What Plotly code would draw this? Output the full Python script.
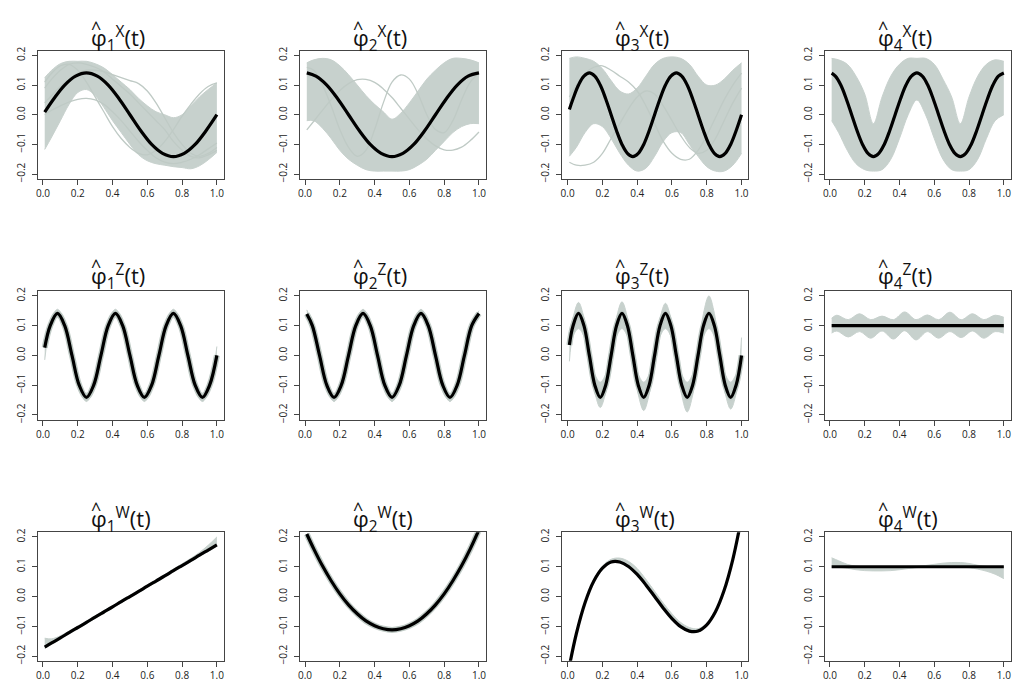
import plotly.graph_objects as go

# ---------------- grids (t values) ----------------
G21 = [0.01, 0.05, 0.1, 0.15, 0.2, 0.25, 0.3, 0.35, 0.4, 0.45, 0.5,
       0.55, 0.6, 0.65, 0.7, 0.75, 0.8, 0.85, 0.9, 0.95, 1.0]
T16 = [0.01, 0.0625, 0.125, 0.1875, 0.25, 0.3125, 0.375, 0.4375, 0.5,
       0.5625, 0.625, 0.6875, 0.75, 0.8125, 0.875, 0.9375, 1.0]
T32 = [0.01, 0.03125, 0.0625, 0.09375, 0.125, 0.15625, 0.1875, 0.21875, 0.25,
       0.28125, 0.3125, 0.34375, 0.375, 0.40625, 0.4375, 0.46875, 0.5,
       0.53125, 0.5625, 0.59375, 0.625, 0.65625, 0.6875, 0.71875, 0.75,
       0.78125, 0.8125, 0.84375, 0.875, 0.90625, 0.9375, 0.96875, 1.0]
T24 = [0.01, 0.0417, 0.0833, 0.125, 0.1667, 0.2083, 0.25, 0.2917, 0.3333,
       0.375, 0.4167, 0.4583, 0.5, 0.5417, 0.5833, 0.625, 0.6667, 0.7083,
       0.75, 0.7917, 0.8333, 0.875, 0.9167, 0.9583, 1.0]
TZ4 = [0.01, 0.04, 0.105, 0.17, 0.235, 0.30, 0.365, 0.43, 0.495, 0.56,
       0.625, 0.69, 0.755, 0.82, 0.885, 0.95, 1.0]
T2 = [0.01, 1.0]

# ---------------- true (black) curves ----------------
X1 = [0.009, 0.054, 0.100, 0.130, 0.141, 0.130, 0.100, 0.054, 0.000, -0.054, -0.100,
      -0.130, -0.141, -0.130, -0.100, -0.054, 0.000]
X2 = [0.141, 0.130, 0.100, 0.054, 0.000, -0.054, -0.100, -0.130, -0.141, -0.130, -0.100,
      -0.054, 0.000, 0.054, 0.100, 0.130, 0.141]
X3 = [0.018, 0.054, 0.100, 0.130, 0.141, 0.130, 0.100, 0.054, 0.000, -0.054, -0.100,
      -0.130, -0.141, -0.130, -0.100, -0.054, 0.000, 0.054, 0.100, 0.130, 0.141, 0.130,
      0.100, 0.054, 0.000, -0.054, -0.100, -0.130, -0.141, -0.130, -0.100, -0.054, 0.000]
X4 = [0.140, 0.130, 0.100, 0.054, 0.000, -0.054, -0.100, -0.130, -0.141, -0.130, -0.100,
      -0.054, 0.000, 0.054, 0.100, 0.130, 0.141, 0.130, 0.100, 0.054, 0.000, -0.054,
      -0.100, -0.130, -0.141, -0.130, -0.100, -0.054, 0.000, 0.054, 0.100, 0.130, 0.141]
Z1 = [0.026, 0.100, 0.141, 0.100, 0.000, -0.100, -0.141, -0.100, 0.000, 0.100, 0.141,
      0.100, 0.000, -0.100, -0.141, -0.100, 0.000, 0.100, 0.141, 0.100, 0.000, -0.100,
      -0.141, -0.100, 0.000]
Z2 = [0.139, 0.100, 0.000, -0.100, -0.141, -0.100, 0.000, 0.100, 0.141, 0.100, 0.000,
      -0.100, -0.141, -0.100, 0.000, 0.100, 0.141, 0.100, 0.000, -0.100, -0.141, -0.100,
      0.000, 0.100, 0.141]
Z3 = [0.035, 0.100, 0.141, 0.100, 0.000, -0.100, -0.141, -0.100, 0.000, 0.100, 0.141,
      0.100, 0.000, -0.100, -0.141, -0.100, 0.000, 0.100, 0.141, 0.100, 0.000, -0.100,
      -0.141, -0.100, 0.000, 0.100, 0.141, 0.100, 0.000, -0.100, -0.141, -0.100, 0.000]
Z4 = [0.100, 0.100]
W1 = [-0.170, -0.156, -0.139, -0.121, -0.104, -0.087, -0.069, -0.052, -0.035, -0.017, 0.000,
      0.017, 0.035, 0.052, 0.069, 0.087, 0.104, 0.121, 0.139, 0.156, 0.173]
W2 = [0.210, 0.160, 0.103, 0.053, 0.009, -0.028, -0.058, -0.082, -0.098, -0.108, -0.112,
      -0.108, -0.098, -0.082, -0.058, -0.028, 0.009, 0.053, 0.103, 0.160, 0.224]
W3 = [-0.234, -0.125, -0.021, 0.051, 0.095, 0.116, 0.116, 0.101, 0.074, 0.039, 0.000,
      -0.039, -0.074, -0.101, -0.116, -0.116, -0.095, -0.051, 0.021, 0.125, 0.265]
W4 = [0.100, 0.100]

# ---------------- estimated curves: bands (low / high envelopes) ----------------
X1_lo = [-0.117, -0.075, -0.020, 0.035, 0.075, 0.085, 0.065, 0.025, -0.020, -0.060, -0.100,
         -0.135, -0.155, -0.165, -0.170, -0.175, -0.178, -0.182, -0.172, -0.152, -0.127]
X1_hi = [0.125, 0.150, 0.172, 0.180, 0.180, 0.180, 0.172, 0.158, 0.135, 0.110, 0.085,
         0.055, 0.030, 0.010, 0.000, -0.010, 0.000, 0.030, 0.060, 0.085, 0.107]
X2_lo = [-0.020, -0.020, -0.045, -0.080, -0.120, -0.150, -0.170, -0.185, -0.190, -0.190, -0.190,
         -0.190, -0.185, -0.170, -0.150, -0.120, -0.090, -0.060, -0.040, -0.030, -0.030]
X2_hi = [0.175, 0.185, 0.190, 0.185, 0.165, 0.135, 0.100, 0.065, 0.035, 0.010, -0.015,
         0.005, 0.040, 0.080, 0.120, 0.150, 0.175, 0.190, 0.190, 0.185, 0.175]
X3_lo = [-0.140, -0.110, -0.060, -0.030, -0.040, -0.080, -0.130, -0.170, -0.190, -0.180, -0.140,
         -0.090, -0.060, -0.060, -0.100, -0.140, -0.175, -0.190, -0.190, -0.170, -0.130]
X3_hi = [0.190, 0.195, 0.190, 0.180, 0.155, 0.115, 0.080, 0.070, 0.090, 0.130, 0.170,
         0.190, 0.195, 0.190, 0.170, 0.130, 0.100, 0.100, 0.120, 0.150, 0.175]
X4_lo = [-0.020, -0.060, -0.120, -0.165, -0.185, -0.190, -0.185, -0.150, -0.080, 0.000, 0.050,
         0.000, -0.080, -0.150, -0.185, -0.190, -0.185, -0.150, -0.080, -0.020, 0.000]
X4_hi = [0.190, 0.185, 0.170, 0.130, 0.070, -0.030, 0.060, 0.130, 0.170, 0.190, 0.190,
         0.190, 0.170, 0.120, 0.060, -0.030, 0.060, 0.130, 0.170, 0.185, 0.180]

Z1_in = [-0.015, 0.090, 0.127, 0.090, 0.000, -0.090, -0.127, -0.090, 0.000, 0.090, 0.127,
         0.090, 0.000, -0.090, -0.127, -0.090, 0.000, 0.090, 0.127, 0.090, 0.000, -0.090,
         -0.127, -0.090, -0.020]
Z1_out = [0.030, 0.110, 0.155, 0.110, 0.000, -0.110, -0.155, -0.110, 0.000, 0.110, 0.155,
          0.110, 0.000, -0.110, -0.155, -0.110, 0.000, 0.110, 0.155, 0.110, 0.000, -0.110,
          -0.155, -0.110, 0.030]
Z2_in = [0.125, 0.090, 0.000, -0.090, -0.127, -0.090, 0.000, 0.090, 0.127, 0.090, 0.000,
         -0.090, -0.127, -0.090, 0.000, 0.090, 0.127, 0.090, 0.000, -0.090, -0.127, -0.090,
         0.000, 0.090, 0.125]
Z2_out = [0.153, 0.110, 0.000, -0.110, -0.155, -0.110, 0.000, 0.110, 0.155, 0.110, 0.000,
          -0.110, -0.155, -0.110, 0.000, 0.110, 0.155, 0.110, 0.000, -0.110, -0.155, -0.110,
          0.000, 0.110, 0.150]
Z3_in = [-0.020, 0.064, 0.090, 0.064, 0.000, -0.064, -0.090, -0.064, 0.000, 0.064, 0.090,
         0.064, 0.000, -0.064, -0.090, -0.064, 0.000, 0.064, 0.090, 0.064, 0.000, -0.064,
         -0.090, -0.064, 0.000, 0.064, 0.090, 0.064, 0.000, -0.064, -0.090, -0.064, -0.030]
Z3_out = [0.050, 0.126, 0.178, 0.126, 0.000, -0.124, -0.175, -0.124, 0.000, 0.127, 0.180,
          0.127, 0.000, -0.131, -0.185, -0.131, 0.000, 0.124, 0.175, 0.124, 0.000, -0.134,
          -0.190, -0.134, 0.000, 0.141, 0.200, 0.141, 0.000, -0.127, -0.180, -0.127, 0.060]
Z4_lo = [0.075, 0.082, 0.062, 0.080, 0.058, 0.082, 0.055, 0.083, 0.052, 0.080, 0.058,
         0.080, 0.060, 0.082, 0.058, 0.080, 0.075]
Z4_hi = [0.125, 0.135, 0.120, 0.140, 0.120, 0.132, 0.120, 0.146, 0.120, 0.136, 0.120,
         0.145, 0.120, 0.140, 0.120, 0.135, 0.128]

W1_lo = [-0.174, -0.160, -0.143, -0.125, -0.108, -0.091, -0.073, -0.056, -0.039, -0.021, -0.004,
         0.013, 0.031, 0.048, 0.065, 0.083, 0.100, 0.117, 0.135, 0.152, 0.169]
W1_hi = [-0.140, -0.142, -0.132, -0.116, -0.100, -0.083, -0.065, -0.048, -0.031, -0.013, 0.004,
         0.021, 0.039, 0.056, 0.074, 0.092, 0.110, 0.128, 0.148, 0.172, 0.200]
W3_lo = [-0.237, -0.128, -0.024, 0.048, 0.092, 0.113, 0.113, 0.098, 0.071, 0.036, -0.003,
         -0.042, -0.077, -0.104, -0.119, -0.119, -0.098, -0.054, 0.018, 0.122, 0.262]
W3_hi = [-0.232, -0.122, -0.017, 0.056, 0.102, 0.125, 0.129, 0.118, 0.094, 0.058, 0.018,
         -0.022, -0.058, -0.087, -0.104, -0.108, -0.090, -0.048, 0.024, 0.128, 0.268]
W4_lo = [0.098, 0.098, 0.095, 0.090, 0.087, 0.086, 0.086, 0.087, 0.090, 0.094, 0.097,
         0.098, 0.098, 0.098, 0.098, 0.098, 0.097, 0.092, 0.085, 0.075, 0.060]
W4_hi = [0.130, 0.120, 0.108, 0.102, 0.100, 0.100, 0.100, 0.100, 0.100, 0.101, 0.102,
         0.104, 0.108, 0.112, 0.114, 0.114, 0.111, 0.105, 0.101, 0.100, 0.100]

# ---------------- estimated curves: individual outliers ----------------
X1_a = [0.040, 0.065, 0.095, 0.120, 0.140, 0.150, 0.150, 0.145, 0.135, 0.125, 0.115,
        0.105, 0.080, 0.040, -0.010, -0.060, -0.100, -0.130, -0.140, -0.130, -0.110]
X1_b = [0.110, 0.140, 0.165, 0.170, 0.150, 0.110, 0.060, 0.010, -0.040, -0.080, -0.110,
        -0.130, -0.135, -0.120, -0.090, -0.050, -0.005, 0.035, 0.070, 0.095, 0.107]
X1_c = [0.000, 0.015, 0.030, 0.043, 0.052, 0.055, 0.050, 0.035, 0.010, -0.020, -0.055,
        -0.090, -0.120, -0.145, -0.160, -0.165, -0.160, -0.150, -0.135, -0.115, -0.095]
X1_d = [0.090, 0.120, 0.150, 0.170, 0.175, 0.170, 0.160, 0.145, 0.120, 0.095, 0.070,
        0.040, 0.010, -0.020, -0.050, -0.090, -0.120, -0.140, -0.145, -0.135, -0.120]
X2_a = [-0.051, -0.022, 0.015, 0.051, 0.082, 0.105, 0.118, 0.119, 0.109, 0.087, 0.058,
        0.022, -0.015, -0.051, -0.082, -0.105, -0.118, -0.119, -0.109, -0.087, -0.058]
X2_b = [0.160, 0.150, 0.100, 0.030, -0.050, -0.110, -0.140, -0.120, -0.050, 0.040, 0.110,
        0.134, 0.120, 0.070, 0.000, -0.050, -0.060, -0.020, 0.050, 0.110, 0.140]
X3_a = [-0.160, -0.170, -0.170, -0.160, -0.130, -0.080, -0.030, 0.020, 0.060, 0.080, 0.070,
        0.030, -0.020, -0.070, -0.110, -0.130, -0.120, -0.080, -0.020, 0.040, 0.090]
X3_b = [0.060, 0.100, 0.140, 0.160, 0.165, 0.150, 0.130, 0.110, 0.080, 0.030, -0.030,
        -0.090, -0.130, -0.150, -0.150, -0.120, -0.070, -0.010, 0.050, 0.100, 0.140]

TITLE_LETTERS = ["X", "Z", "W"]
X_TICKS = [0.0, 0.2, 0.4, 0.6, 0.8, 1.0]
X_LABELS = ["0.0", "0.2", "0.4", "0.6", "0.8", "1.0"]
Y_TICKS = [-0.2, -0.1, 0.0, 0.1, 0.2]
Y_LABELS = ["\u22120.2", "\u22120.1", "0.0", "0.1", "0.2"]

# panel n -> (bands, outliers, thick gray underlay, black)
PANELS = {
    1: ([(G21, X1_lo, X1_hi)], [X1_a, X1_b, X1_c, X1_d], None, (T16, X1)),
    2: ([(G21, X2_lo, X2_hi)], [X2_a, X2_b], None, (T16, X2)),
    3: ([(G21, X3_lo, X3_hi)], [X3_a, X3_b], None, (T32, X3)),
    4: ([(G21, X4_lo, X4_hi)], [], None, (T32, X4)),
    5: ([(T24, Z1_in, Z1_out)], [], (T24, Z1), (T24, Z1)),
    6: ([(T24, Z2_in, Z2_out)], [], (T24, Z2), (T24, Z2)),
    7: ([(T32, Z3_in, Z3_out)], [], (T32, Z3), (T32, Z3)),
    8: ([(TZ4, Z4_lo, Z4_hi)], [], None, (T2, Z4)),
    9: ([(G21, W1_lo, W1_hi)], [], None, (G21, W1)),
    10: ([], [], (G21, W2), (G21, W2)),
    11: ([(G21, W3_lo, W3_hi)], [], None, (G21, W3)),
    12: ([(G21, W4_lo, W4_hi)], [], None, (T2, W4)),
}

# ---------------- layout constants ----------------
WIDTH, HEIGHT = 1012, 687
COL_LEFT = [35.9, 298.5, 561.6, 824.4]
BOX_W = 186.3
ROWS = [(47.2, 176.9), (290.5, 420.6), (534.4, 664.6)]
TITLE_Y = [35, 276, 522]
GRAY = "#BFCAC5"
BAND = "#C7D1CD"
FONT = "Open Sans"

fig = go.Figure()


def names(n):
    return ("x" if n == 1 else f"x{n}", "y" if n == 1 else f"y{n}")


for n, (bands, outs, under, black) in PANELS.items():
    xa, ya = names(n)
    for (t, lo, hi) in bands:
        fig.add_trace(go.Scatter(x=t, y=lo, mode="lines", xaxis=xa, yaxis=ya,
                                 line=dict(color=BAND, width=1, shape="spline"),
                                 showlegend=False, hoverinfo="skip"))
        fig.add_trace(go.Scatter(x=t, y=hi, mode="lines", xaxis=xa, yaxis=ya,
                                 fill="tonexty", fillcolor=BAND,
                                 line=dict(color=BAND, width=1, shape="spline"),
                                 showlegend=False, hoverinfo="skip"))
    for o in outs:
        fig.add_trace(go.Scatter(x=G21, y=o, mode="lines", xaxis=xa, yaxis=ya,
                                 line=dict(color=GRAY, width=1.3, shape="spline"),
                                 showlegend=False, hoverinfo="skip"))
    if under is not None:
        fig.add_trace(go.Scatter(x=under[0], y=under[1], mode="lines", xaxis=xa, yaxis=ya,
                                 line=dict(color=GRAY, width=6, shape="spline"),
                                 showlegend=False, hoverinfo="skip"))
    fig.add_trace(go.Scatter(x=black[0], y=black[1], mode="lines", xaxis=xa, yaxis=ya,
                             line=dict(color="black", width=3.2, shape="spline"),
                             showlegend=False, hoverinfo="skip"))

layout = dict(width=WIDTH, height=HEIGHT, margin=dict(l=0, r=0, t=0, b=0),
              paper_bgcolor="white", plot_bgcolor="white", showlegend=False)
annotations = []
for r in range(3):
    top, bot = ROWS[r]
    for c in range(4):
        n = r * 4 + c + 1
        left = COL_LEFT[c]
        xk = "xaxis" if n == 1 else f"xaxis{n}"
        yk = "yaxis" if n == 1 else f"yaxis{n}"
        common = dict(showline=True, linecolor="#444", linewidth=1, mirror=True,
                      ticks="outside", ticklen=5, tickwidth=1, tickcolor="#444",
                      showgrid=False, zeroline=False,
                      tickfont=dict(family=FONT, size=10, color="#222"))
        layout[xk] = dict(domain=[left / WIDTH, (left + BOX_W) / WIDTH],
                          range=[-0.0296, 1.0396], tickvals=X_TICKS, ticktext=X_LABELS,
                          anchor=names(n)[1], **common)
        layout[yk] = dict(domain=[1 - bot / HEIGHT, 1 - top / HEIGHT],
                          range=[-0.216, 0.216], tickvals=Y_TICKS, ticktext=Y_LABELS,
                          tickangle=-90, ticklabelstandoff=3,
                          anchor=names(n)[0], **common)
        tx = left + 51
        annotations.append(dict(
            xref="paper", yref="paper", x=tx / WIDTH, y=1 - TITLE_Y[r] / HEIGHT,
            xanchor="left", yanchor="middle", showarrow=False,
            text=f"φ<sub>{c + 1}</sub><sup>{TITLE_LETTERS[r]}</sup>(t)",
            font=dict(family=FONT, size=22, color="#111")))
        annotations.append(dict(
            xref="paper", yref="paper", x=(tx + 7) / WIDTH, y=1 - (TITLE_Y[r] - 11) / HEIGHT,
            xanchor="center", yanchor="middle", showarrow=False,
            text="^", font=dict(family=FONT, size=18, color="#111")))
layout["annotations"] = annotations
fig.update_layout(**layout)
fig.write_html("out.html", config={"displayModeBar": False},
               post_script="document.body.style.margin='0';"
                           "document.body.style.overflow='hidden';")
